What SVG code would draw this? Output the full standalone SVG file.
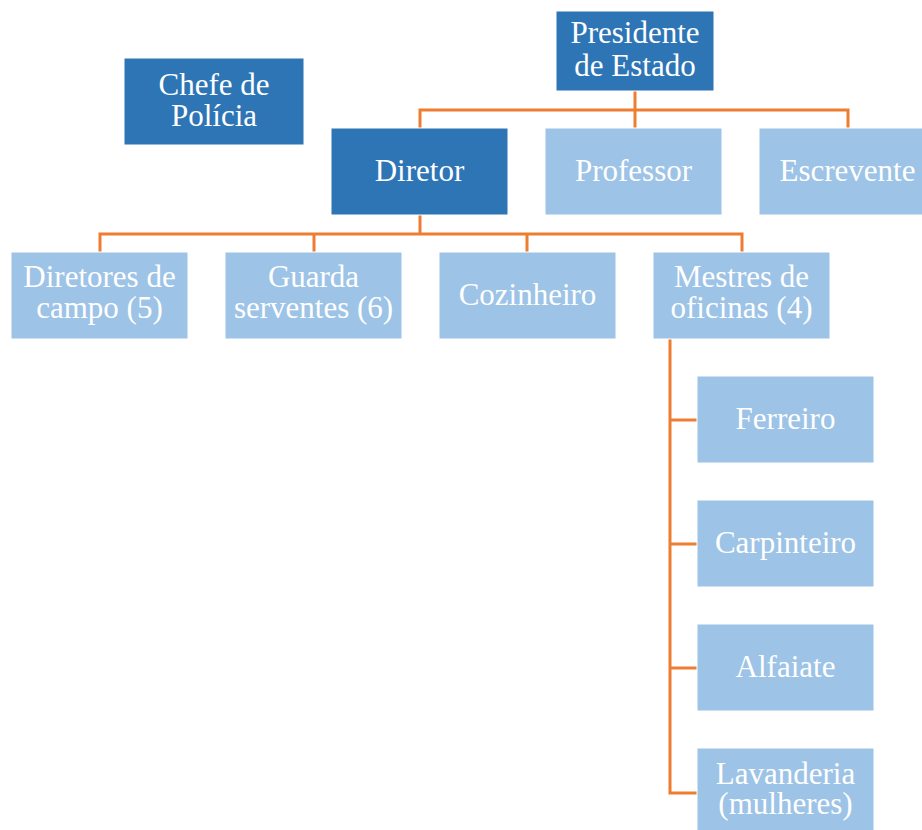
<svg xmlns="http://www.w3.org/2000/svg" width="922" height="830" viewBox="0 0 922 830">
<style>
.dark{fill:#2E75B6;stroke:#ffffff;stroke-width:1}
.light{fill:#9DC3E6;stroke:#ffffff;stroke-width:1}
.t text{font-family:'Liberation Serif',Tinos,'Times New Roman',Times,'DejaVu Serif','Noto Serif',serif;font-size:31px;fill:#ffffff;text-anchor:middle}
.conn{fill:none;stroke:#ED7D31;stroke-width:3;stroke-linejoin:miter}
</style>
<rect width="922" height="830" fill="#ffffff"/>
<g id="connectors">
<path class="conn" d="M635,91 V110 M420,128 V110 H848 V128 M635,110 V128"/>
<path class="conn" d="M420,215 V234 M100,252 V234 H742 V252 M314,234 V252 M527,234 V252"/>
<path class="conn" d="M670,339 V793 H697 M670,420 H697 M670,544 H697 M670,668 H697"/>
</g>
<g class="t">
<g id="chefe"><rect class="dark" x="124" y="58" width="180" height="87"/><text x="214" y="95">Chefe de</text><text x="214" y="126">Polícia</text></g>
<g id="presidente"><rect class="dark" x="556" y="11" width="158" height="80"/><text x="635" y="43">Presidente</text><text x="635" y="76">de Estado</text></g>
<g id="diretor"><rect class="dark" x="331" y="128" width="177" height="87"/><text x="419.5" y="181">Diretor</text></g>
<g id="professor"><rect class="light" x="545" y="128" width="177" height="87"/><text x="633.5" y="181">Professor</text></g>
<g id="escrevente"><rect class="light" x="759" y="128" width="177" height="87"/><text x="847.5" y="181">Escrevente</text></g>
<g id="diretores-campo"><rect class="light" x="11" y="252" width="177" height="87"/><text x="99.5" y="287">Diretores de</text><text x="99.5" y="318">campo (5)</text></g>
<g id="guarda-serventes"><rect class="light" x="225" y="252" width="177" height="87"/><text x="313.5" y="287">Guarda</text><text x="313.5" y="318">serventes (6)</text></g>
<g id="cozinheiro"><rect class="light" x="439" y="252" width="177" height="87"/><text x="527.5" y="305">Cozinheiro</text></g>
<g id="mestres"><rect class="light" x="653" y="252" width="177" height="87"/><text x="741.5" y="287">Mestres de</text><text x="741.5" y="318">oficinas (4)</text></g>
<g id="ferreiro"><rect class="light" x="697" y="376" width="177" height="87"/><text x="785.5" y="429">Ferreiro</text></g>
<g id="carpinteiro"><rect class="light" x="697" y="500" width="177" height="87"/><text x="785.5" y="553">Carpinteiro</text></g>
<g id="alfaiate"><rect class="light" x="697" y="624" width="177" height="87"/><text x="785.5" y="677">Alfaiate</text></g>
<g id="lavanderia"><rect class="light" x="697" y="748" width="177" height="87"/><text x="785.5" y="784">Lavanderia</text><text x="785.5" y="814">(mulheres)</text></g>
</g>
</svg>
